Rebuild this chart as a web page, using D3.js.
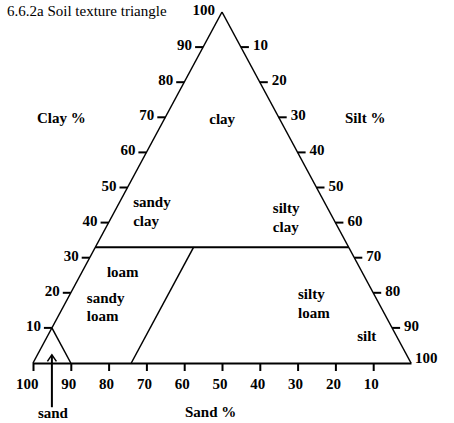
<!DOCTYPE html>
<html><head><meta charset="utf-8">
<script src="https://cdn.jsdelivr.net/npm/d3@7"></script>
<style>
body{margin:0;background:#fff}
text{font-family:"Liberation Serif","Times New Roman",serif;font-size:15px;fill:#000}
.b{font-weight:bold}
</style>
</head><body><svg id="c" width="454" height="423"></svg>
<script>
// ---- data ----
const sandTicks = [100, 90, 80, 70, 60, 50, 40, 30, 20, 10];
const clayTicks = [10, 20, 30, 40, 50, 60, 70, 80, 90];
const clayLabels = [10, 20, 30, 40, 50, 60, 70, 80, 90, 100];
const siltTicks = [10, 20, 30, 40, 50, 60, 70, 80, 90];
const siltLabels = [10, 20, 30, 40, 50, 60, 70, 80, 90, 100];
const clayBoundary = 33;   // clay % of horizontal boundary
const siltBoundary = 26;   // silt % of loam / silty loam boundary
const sandCorner = 10;     // sand triangle size
const regionNames = ["clay", "sandy\nclay", "silty\nclay", "loam", "sandy\nloam", "silty\nloam", "silt"];
const regionClay = [68.1, 44.4, 42.7, 24.5, 17.1, 18.2, 6.3];
const regionSilt = [16.0, 4.3, 42.1, 7.3, 5.7, 61.0, 82.6];
const regionAnchor = ["middle", "start", "start", "start", "start", "start", "start"];
const arrowClay = [2.3, -12.6]; // tip, tail (relative to clay scale)

// ---- scales ----
const svg = d3.select("#c");
const xs = d3.scaleLinear().domain([0, 100]).range([33, 411]); // silt + clay/2
const ys = d3.scaleLinear().domain([0, 100]).range([363, 12]); // clay
const proj = (clay, silt) => [xs(silt + clay / 2), ys(clay)];
const sandScale = d3.scaleLinear().domain([100, 0]).range([33, 411]);

svg.append("text").attr("x", 7).attr("y", 16).text("6.6.2a Soil texture triangle");

const line = d3.line();
const drawLine = (pts, w) => svg.append("path").attr("d", line(pts))
  .attr("fill", "none").attr("stroke", "#000").attr("stroke-width", w);

// edges
drawLine([proj(0, 0), proj(100, 0)], 1.5);
drawLine([proj(100, 0), proj(0, 100)], 1.5);

// sand axis
const ax = svg.append("g").attr("transform", `translate(0,${ys(0)})`)
  .call(d3.axisBottom(sandScale).tickValues(sandTicks).tickSize(8).tickSizeOuter(0).tickPadding(7));
ax.attr("font-family", null).attr("font-size", null);
ax.select(".domain").attr("stroke-width", 2);
ax.selectAll(".tick line").attr("stroke-width", 2);
ax.selectAll(".tick text").attr("class", "b").attr("text-anchor", "end").attr("x", 5);

// boundaries
drawLine([proj(clayBoundary, 0), proj(clayBoundary, 100 - clayBoundary)], 2);
drawLine([proj(0, siltBoundary), proj(clayBoundary, siltBoundary)], 1.5);
drawLine([proj(sandCorner, 0), proj(0, sandCorner)], 1.5);

// clay ticks (left)
clayTicks.forEach(c => {
  const p = proj(c, 0);
  drawLine([[p[0] - 8, p[1]], p], 2);
});
clayLabels.forEach(c => {
  const p = proj(c, 0);
  svg.append("text").attr("class", "b").attr("text-anchor", "end")
    .attr("x", c === 100 ? p[0] - 7 : p[0] - 11).attr("y", p[1] + 3).text(c);
});
// silt ticks (right)
siltTicks.forEach(s => {
  const p = proj(100 - s, s);
  drawLine([p, [p[0] + 8, p[1]]], 2);
});
siltLabels.forEach(s => {
  const p = proj(100 - s, s);
  svg.append("text").attr("class", "b")
    .attr("x", s === 100 ? p[0] + 4 : p[0] + 12).attr("y", s === 100 ? p[1] : p[1] + 3).text(s);
});

// region labels
regionNames.forEach((n, i) => {
  const p = proj(regionClay[i], regionSilt[i]);
  const t = svg.append("text").attr("class", "b").attr("text-anchor", regionAnchor[i]);
  n.split("\n").forEach((w, j) => {
    t.append("tspan").attr("x", p[0]).attr("y", p[1] + j * 18.5).text(w);
  });
});

// axis titles
svg.append("text").attr("class", "b").attr("x", 37).attr("y", 123).text("Clay %");
svg.append("text").attr("class", "b").attr("x", 345).attr("y", 123).text("Silt %");
svg.append("text").attr("class", "b").attr("x", 185).attr("y", 417).text("Sand %");

// sand arrow
const axX = proj(sandCorner, 0)[0];
const tip = ys(arrowClay[0]), tail = ys(arrowClay[1]);
drawLine([[axX, tail], [axX, tip]], 2);
drawLine([[axX - 4.5, tip + 6.5], [axX, tip], [axX + 4.5, tip + 6.5]], 1.5);
svg.append("text").attr("class", "b").attr("text-anchor", "middle")
  .attr("x", axX + 1).attr("y", tail + 11).text("sand");
</script>
</body></html>
